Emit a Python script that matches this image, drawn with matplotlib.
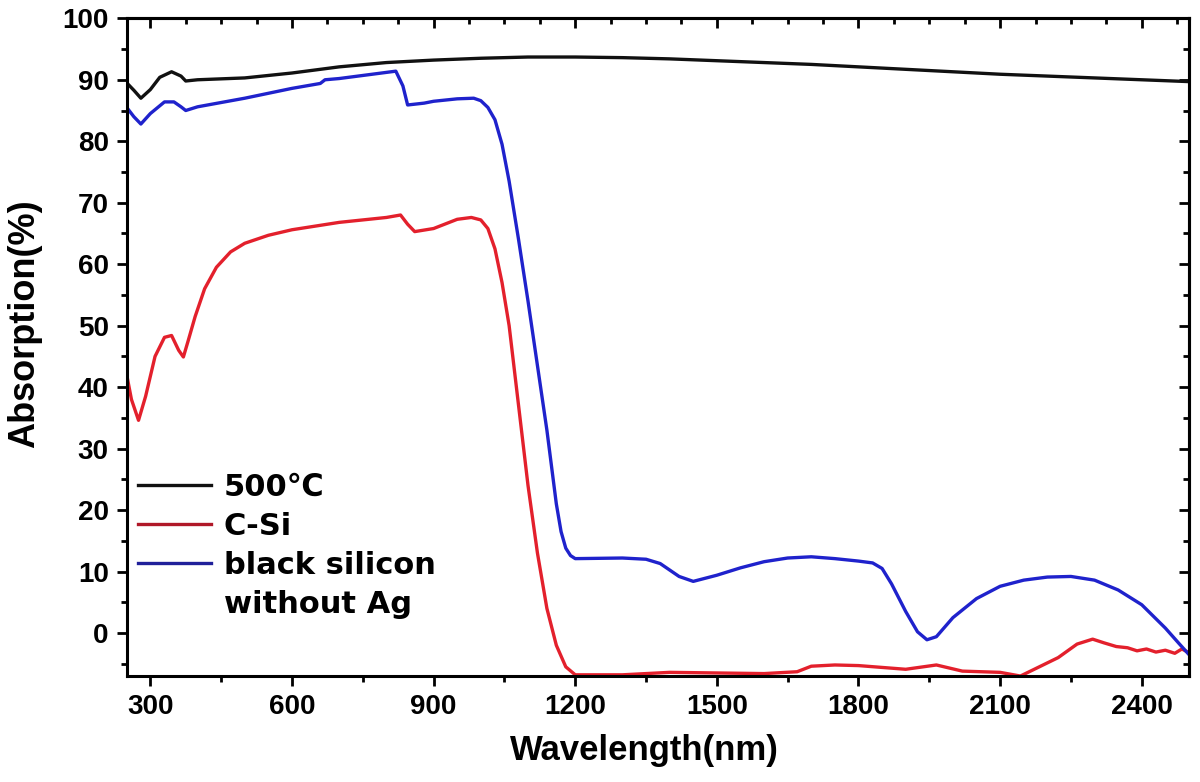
import matplotlib
matplotlib.use("Agg")
import matplotlib.pyplot as plt
from matplotlib.ticker import MultipleLocator
from matplotlib.lines import Line2D

# ---- data ----
wl_black = [250, 265, 280, 300, 320, 345, 365, 375, 400, 500, 600, 700, 800, 900, 1000,
            1100, 1200, 1300, 1400, 1500, 1600, 1700, 1800, 1900, 2000, 2100, 2200,
            2300, 2400, 2500]
abs_black = [89.5, 88.3, 87.0, 88.4, 90.4, 91.3, 90.6, 89.8, 90.0, 90.3, 91.1, 92.1,
             92.8, 93.2, 93.5, 93.7, 93.7, 93.6, 93.4, 93.1, 92.8, 92.5, 92.1, 91.7,
             91.3, 90.9, 90.6, 90.3, 90.0, 89.7]

wl_blue = [250, 265, 280, 300, 330, 350, 365, 375, 400, 500, 600, 660, 670, 700, 800,
           820, 835, 845, 880, 900, 950, 985, 1000, 1015, 1030, 1045, 1060, 1080, 1100,
           1120, 1140, 1160, 1170, 1180, 1190, 1200, 1300, 1350, 1380, 1420, 1450, 1500,
           1550, 1600, 1650, 1700, 1750, 1800, 1830, 1850, 1870, 1900, 1925, 1945, 1965,
           2000, 2050, 2100, 2150, 2200, 2250, 2300, 2350, 2400, 2450, 2480, 2500]
abs_blue = [85.5, 84.0, 82.8, 84.5, 86.4, 86.4, 85.6, 85.0, 85.6, 87.0, 88.6, 89.4,
            90.0, 90.2, 91.2, 91.4, 89.0, 85.9, 86.2, 86.5, 86.9, 87.0, 86.6, 85.5,
            83.5, 79.5, 73.5, 64.0, 54.0, 43.5, 33.0, 21.0, 16.5, 13.8, 12.6, 12.1,
            12.2, 12.0, 11.3, 9.2, 8.4, 9.4, 10.6, 11.6, 12.2, 12.4, 12.1, 11.7, 11.4,
            10.5, 8.0, 3.5, 0.2, -1.1, -0.6, 2.5, 5.6, 7.6, 8.6, 9.1, 9.2, 8.6, 7.0,
            4.6, 0.8, -1.8, -3.5]

wl_red = [250, 260, 275, 290, 310, 330, 345, 360, 370, 380, 395, 415, 440, 470, 500,
          550, 600, 700, 800, 830, 845, 860, 900, 950, 980, 1000, 1015, 1030, 1045,
          1060, 1080, 1100, 1120, 1140, 1160, 1180, 1200, 1300, 1400, 1500, 1600, 1670,
          1700, 1750, 1800, 1850, 1900, 1965, 2020, 2100, 2143, 2183, 2223, 2263, 2296,
          2320, 2346, 2370, 2390, 2410, 2430, 2450, 2470, 2485, 2500]
abs_red = [42.0, 38.0, 34.6, 38.5, 45.0, 48.1, 48.4, 46.0, 44.9, 47.5, 51.5, 56.0,
           59.5, 62.0, 63.4, 64.7, 65.6, 66.8, 67.6, 68.0, 66.5, 65.3, 65.8, 67.3,
           67.6, 67.2, 65.8, 62.5, 57.0, 50.0, 37.0, 24.0, 13.0, 4.0, -2.0, -5.5,
           -6.8, -6.8, -6.4, -6.5, -6.6, -6.3, -5.4, -5.2, -5.3, -5.6, -5.9, -5.2,
           -6.2, -6.4, -7.0, -5.5, -4.0, -1.8, -1.0, -1.6, -2.2, -2.4, -2.9, -2.6,
           -3.1, -2.8, -3.3, -2.6, -3.2]

series_labels = ["500\u2103", "C-Si", "black silicon", "without Ag"]
x_ticks = [300, 600, 900, 1200, 1500, 1800, 2100, 2400]
y_ticks = [0, 10, 20, 30, 40, 50, 60, 70, 80, 90, 100]

c_black = "#111111"
c_red = "#e3202c"
c_blue = "#1f22cc"
lw = 2.4

fig = plt.figure(figsize=(12, 7.82), dpi=100)
ax = fig.add_axes([0.1056, 0.1355, 0.8852, 0.8411])

ax.plot(wl_black, abs_black, color=c_black, lw=lw)
ax.plot(wl_red, abs_red, color=c_red, lw=lw)
ax.plot(wl_blue, abs_blue, color=c_blue, lw=lw)

ax.set_xlim(250, 2500)
ax.set_ylim(-7, 100)
ax.set_xticks(x_ticks)
ax.set_yticks(y_ticks)
ax.xaxis.set_minor_locator(MultipleLocator(150))
ax.yaxis.set_minor_locator(MultipleLocator(5))

tick_font = dict(family="Liberation Sans", weight="bold", size=20)
ax.set_xticklabels([str(v) for v in x_ticks], fontdict=tick_font)
ax.set_yticklabels([str(v) for v in y_ticks], fontdict=tick_font)

for s in ax.spines.values():
    s.set_linewidth(2.2)

ax.tick_params(which="major", direction="out", length=7, width=2.0, pad=6,
               top=False, right=False)
ax.tick_params(which="minor", direction="out", length=4, width=2.0,
               top=False, right=False)

# mirrored inward ticks on top and right
secx = ax.secondary_xaxis("top")
secx.xaxis.set_major_locator(MultipleLocator(300))
secx.xaxis.set_minor_locator(MultipleLocator(75))
secx.tick_params(which="major", direction="in", length=7, width=2.0, labeltop=False)
secx.tick_params(which="minor", direction="in", length=4, width=2.0)
secx.spines["top"].set_linewidth(2.2)
secy = ax.secondary_yaxis("right")
secy.yaxis.set_major_locator(MultipleLocator(10))
secy.yaxis.set_minor_locator(MultipleLocator(5))
secy.tick_params(which="major", direction="in", length=7, width=2.0, labelright=False)
secy.tick_params(which="minor", direction="in", length=4, width=2.0)
secy.spines["right"].set_linewidth(2.2)

ax.set_xlabel("Wavelength(nm)", family="Liberation Sans", weight="bold", size=25)
ax.set_ylabel("Absorption(%)", family="Liberation Sans", weight="bold", size=26)
ax.xaxis.set_label_coords(0.487, -0.088)
ax.yaxis.set_label_coords(-0.080, 0.535)

handles = [Line2D([], [], color=c_black, lw=lw),
           Line2D([], [], color="#b01828", lw=lw),
           Line2D([], [], color="#20209a", lw=lw),
           Line2D([], [], color="none", lw=0)]
leg = ax.legend(handles, series_labels, loc="upper left",
                bbox_to_anchor=(0.0106, 0.309), frameon=False,
                prop=dict(family=["DejaVu Sans", "Noto Sans CJK SC"], weight="bold", size=22),
                handlelength=2.4, handletextpad=0.4, labelspacing=0.33,
                borderpad=0, borderaxespad=0)

fig.savefig("out.png", dpi=100)
